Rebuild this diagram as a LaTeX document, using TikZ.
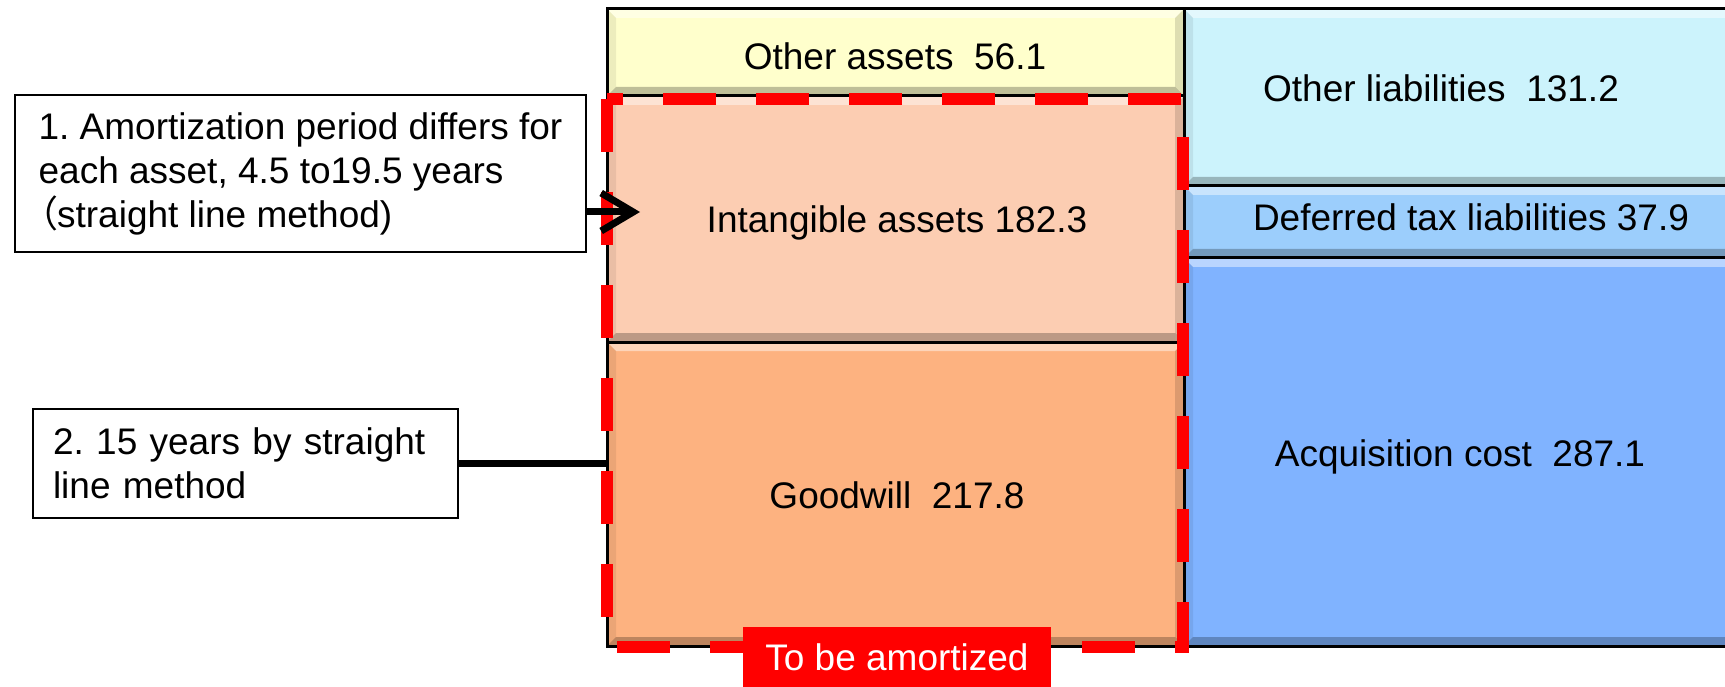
\documentclass[tikz,border=0pt]{standalone}
\usepackage{fontspec}
\setmainfont{Liberation Sans}
\newfontfamily\cjk[RawFeature=+palt]{Noto Sans CJK JP}
\usetikzlibrary{arrows.meta}
\definecolor{cOA}{RGB}{255,255,204}
\definecolor{cIA}{RGB}{252,205,178}
\definecolor{cGW}{RGB}{253,178,128}
\definecolor{cOL}{RGB}{204,243,252}
\definecolor{cDT}{RGB}{156,206,252}
\definecolor{cAC}{RGB}{128,179,255}
\definecolor{cRed}{RGB}{255,0,0}
\newcommand{\bevcell}[5]{%
  \fill[#5] (#1,#2) rectangle (#3,#4);
  \fill[white,opacity=.45] (#1,#2) -- (#3,#2) -- (#3-9,#2+9) -- (#1+9,#2+9) -- cycle;
  \fill[black,opacity=.07] (#1,#2) -- (#1+9,#2+9) -- (#1+9,#4-9) -- (#1,#4) -- cycle;
  \fill[black,opacity=.13] (#3,#2) -- (#3-9,#2+9) -- (#3-9,#4-9) -- (#3,#4) -- cycle;
  \fill[black,opacity=.25] (#1,#4) -- (#1+9,#4-9) -- (#3-9,#4-9) -- (#3,#4) -- cycle;
  \draw[cellline] (#1,#2) rectangle (#3,#4);
}
\frenchspacing
\begin{document}
\frenchspacing
\begin{tikzpicture}[x=1pt,y=-1pt,
  every node/.style={font=\fontsize{37}{44}\selectfont\frenchspacing, text=black},
  cellline/.style={draw=black,line width=3pt},
  note/.style={draw=black,line width=2.5pt,fill=white,align=left,inner ysep=0pt},
  amort/.style={red,draw=cRed,line width=12pt,dash pattern=on 53pt off 40pt},
  conn/.style={draw=black,line width=7pt}]
\useasboundingbox (0,0) rectangle (1725,687);
\clip (0,0) rectangle (1725,687);
\fill[white] (0,0) rectangle (1725,687);
% balance sheet cells
\bevcell{607}{9}{1184}{96}{cOA}
\bevcell{607}{96}{1184}{342}{cIA}
\bevcell{607}{342}{1184}{646}{cGW}
\bevcell{1184}{9}{1745}{186}{cOL}
\bevcell{1184}{186}{1745}{258}{cDT}
\bevcell{1184}{258}{1745}{646}{cAC}
% labels
\node (oa) at (895,56) {Other assets\ \ 56.1};
\node (ia) at (897,223) {Intangible assets 182.3};
\node (gw) at (897,495) {Goodwill\ \ 217.8};
\node (ol) at (1441,88) {Other liabilities\ \ 131.2};
\node (dt) at (1471,217) {Deferred tax liabilities 37.9};
\node (ac) at (1460,457) {Acquisition cost\ \ 287.1};
% amortization region
\draw[amort] (607,99) -- (607,647) -- (1183,647) -- (1183,99) -- cycle;
% notes
\node[note, minimum width=571pt, minimum height=157pt] (n1) at (300.5,173.5)
  {1. Amortization period differs for\\each asset, 4.5 to19.5 years\\{\cjk （}straight line method)};
\node[note, minimum width=425pt, minimum height=109pt, text width=385pt, inner xsep=20pt] (n2) at (245.5,463.5)
  {2. 15 years by straight\\line method};
\coordinate (at1) at (640,212);
\coordinate (gwl) at (607,464);
\draw[conn, -{Straight Barb[length=32pt,width=38pt]}] (n1.east |- at1) -- (at1);
\draw[conn] (n2.east) -- (n2.east -| gwl);
% label
\node[fill=cRed, text=white, minimum width=308pt, minimum height=60pt, inner sep=0pt] (tba) at (897,657) {To be amortized};
\end{tikzpicture}
\end{document}
